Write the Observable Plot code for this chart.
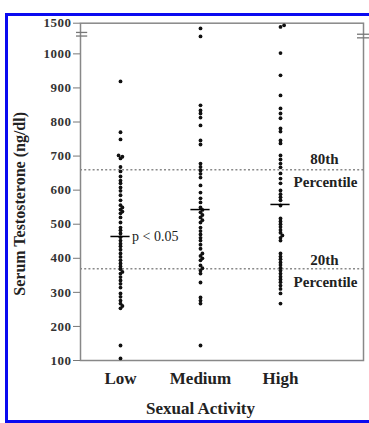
<!DOCTYPE html>
<html><head><meta charset="utf-8">
<script src="https://cdn.jsdelivr.net/npm/d3@7"></script>
<script src="https://cdn.jsdelivr.net/npm/@observablehq/plot@0.6"></script>
<style>
body{margin:0;background:#fff;}
#wrap{position:relative;width:369px;height:423px;overflow:hidden;background:#fff;}
#border{position:absolute;left:5px;top:13px;width:420px;height:410px;border-left:3px solid #0a0af0;border-top:3px solid #0a0af0;border-bottom:3px solid #0a0af0;box-sizing:border-box;pointer-events:none;}
svg text{font-family:"Liberation Serif","Times New Roman",serif;}
g[aria-label="y-axis tick label"] text{letter-spacing:0.5px;}
g[aria-label="cat-label"] text{letter-spacing:0.5px;}
g[aria-label="x-title"] text{letter-spacing:0.7px;}
g[aria-label="y-title"] text{letter-spacing:2px;}
g[aria-label="pct-label"] text{letter-spacing:0.8px;}
</style></head><body><div id="wrap"><div id="border"></div></div>
<script>
// ---- data ----
const categories = ["Low", "Medium", "High"];
const lowValues = [919, 770, 749, 702, 698, 693, 668, 655, 640, 628, 620, 608, 598, 585, 570, 556, 549, 543, 537, 532, 520, 505, 490, 482, 473, 462, 452, 443, 435, 425, 414, 404, 394, 385, 376, 368, 360, 355, 345, 335, 325, 314, 297, 287, 276, 267, 260, 253, 144, 106];
const mediumValues = [1415, 1285, 849, 834, 825, 813, 790, 746, 734, 678, 668, 658, 648, 637, 614, 593, 576, 564, 549, 542, 535, 527, 520, 512, 505, 490, 480, 470, 460, 452, 440, 428, 414, 407, 400, 394, 379, 371, 364, 355, 329, 285, 276, 267, 144];
const highValues = [1465, 1440, 1013, 937, 878, 840, 825, 811, 781, 772, 746, 737, 702, 690, 678, 667, 649, 634, 620, 599, 588, 579, 570, 555, 517, 508, 500, 492, 483, 475, 467, 460, 452, 414, 405, 397, 388, 380, 372, 364, 355, 346, 338, 330, 320, 310, 297, 267];
const groupMeans = [464, 543, 558];
const yTickValues = [100, 200, 300, 400, 500, 600, 700, 800, 900, 1000, 1500];
const percentileLabels = ["80th", "20th"];
const percentileValues = [660, 369];
const pValueText = "p < 0.05";
const xTitle = "Sexual Activity";
const yTitle = "Serum Testosterone (ng/dl)";
const breakStart = 1000, breakEnd = 1500, axisBreakAt = 1320;

// ---- axis break: 1000..1500 compressed ----
const disp = v => v <= breakStart ? v : breakStart + (v - breakStart) * (90 / (breakEnd - breakStart));
const undisp = d => d <= breakStart ? d : Math.round(breakStart + (d - breakStart) * ((breakEnd - breakStart) / 90));

const W = 369, H = 423, mT = 22.7, mB = 63, mL = 80, mR = 6;
const xDomain = [-0.5, 3.0375];
const yDomain = [100, disp(breakEnd)];
const pxPerUnit = (W - mL - mR) / (xDomain[1] - xDomain[0]);
const yScale = Plot.scale({y: {domain: yDomain, range: [H - mB, mT]}});

// simple swarm so overlapping dots sit side by side
const dots = [];
[lowValues, mediumValues, highValues].forEach((vals, gi) => {
  const placed = [];
  [...vals].sort((a, b) => a - b).forEach(v => {
    const py = yScale.apply(disp(v));
    let chosen = null;
    for (const off of [0, 1.9, -1.9, 3.6, -3.6]) {
      if (placed.every(p => Math.hypot(p.x - off, p.y - py) >= 2.5)) { chosen = off; break; }
    }
    if (chosen === null) chosen = 0;
    placed.push({x: chosen, y: py});
    dots.push({gi, value: v, off: chosen});
  });
});

const means = groupMeans.map((m, i) => ({i, m}));
const pct = percentileLabels.map((label, i) => ({label, value: percentileValues[i]}));

function breakRule(x1, x2, dy) {
  return Plot.ruleY([axisBreakAt], {y: disp, x1: () => x1, x2: () => x2, dy, stroke: "#777", strokeWidth: 1.3});
}
function pctText(which, text, dx, dy) {
  return Plot.text(pct.filter(d => d.label === which), {y: d => disp(d.value), frameAnchor: "right", textAnchor: "middle", dx, dy, text, fontSize: 15, fontWeight: "bold", fill: "#222", lineAnchor: "bottom", ariaLabel: "pct-label"});
}

const chart = Plot.plot({
  width: W, height: H, marginTop: mT, marginBottom: mB, marginLeft: mL, marginRight: mR,
  style: {fontFamily: '"Liberation Serif","Times New Roman",serif', fontSize: "12px", color: "#222", background: "transparent", overflow: "visible"},
  x: {domain: xDomain, axis: null},
  y: {domain: yDomain, axis: null},
  marks: [
    Plot.ruleY(pct, {y: d => disp(d.value), stroke: "#8a8a8a", strokeWidth: 1.5, strokeDasharray: "2,2.2"}),
    Plot.frame({stroke: "#888", strokeWidth: 1.5}),
    Plot.dot(dots, {x: d => d.gi + d.off / pxPerUnit, y: d => disp(d.value), r: 1.9, fill: "#111", stroke: "none"}),
    Plot.ruleY(means, {y: d => disp(d.m), x1: d => d.i - 0.12, x2: d => d.i + 0.12, stroke: "#000", strokeWidth: 1.5}),
    Plot.axisY(yTickValues.map(disp), {tickSize: 7, tickPadding: 2, stroke: "#777", tickFormat: d => String(undisp(d)), fontSize: 13, fontWeight: "bold", fill: "#333", label: null}),
    breakRule(xDomain[0] - 0.05, xDomain[0] + 0.09, -1.8),
    breakRule(xDomain[0] - 0.05, xDomain[0] + 0.09, 1.8),
    breakRule(xDomain[1] - 0.075, xDomain[1] + 0.075, 0),
    breakRule(xDomain[1] - 0.075, xDomain[1] + 0.075, 3.6),
    Plot.text(categories, {x: (d, i) => i, frameAnchor: "bottom", dy: 23, lineAnchor: "bottom", text: d => d, fontSize: 17, fontWeight: "bold", fill: "#222", ariaLabel: "cat-label"}),
    Plot.text([xTitle], {x: () => 1, frameAnchor: "bottom", dy: 53, lineAnchor: "bottom", text: d => d, fontSize: 17, fontWeight: "bold", fill: "#222", ariaLabel: "x-title"}),
    Plot.text([yTitle], {frameAnchor: "left", dx: -56, dy: 12, rotate: -90, textAnchor: "middle", lineAnchor: "bottom", text: d => d, fontSize: 16, fontWeight: "bold", fill: "#222", ariaLabel: "y-title"}),
    Plot.text([pValueText], {x: () => 0, y: () => disp(groupMeans[0]), dx: 11.5, textAnchor: "start", lineAnchor: "middle", text: d => d, fontSize: 14, fill: "#222"}),
    pctText("80th", d => d.label, -39, -6),
    pctText("20th", d => d.label, -39, -3.5),
    pctText("80th", () => "Percentile", -38, 17),
    pctText("20th", () => "Percentile", -38, 18.5)
  ]
});
document.getElementById("wrap").insertBefore(chart, document.getElementById("border"));
</script></body></html>
